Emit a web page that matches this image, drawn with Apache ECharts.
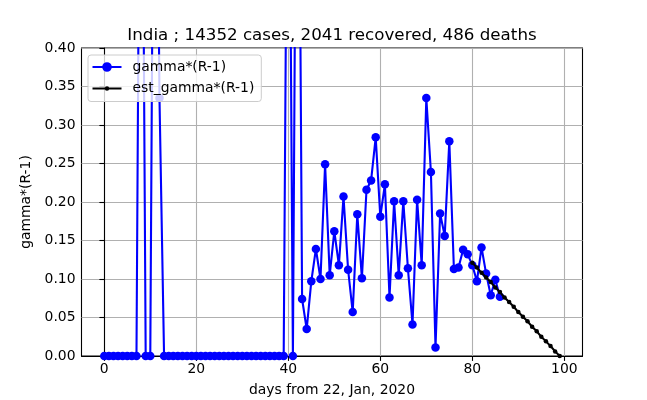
<!DOCTYPE html>
<html lang="en">
<head>
    <meta charset="utf-8">
    <title>India gamma*(R-1)</title>
    <script src="https://cdn.jsdelivr.net/npm/echarts@6/dist/echarts.min.js"></script>
    <style>
        html, body { margin: 0; padding: 0; background: #fff; }
        #box { width: 647px; height: 400px; }
    </style>
</head>
<body>
<div id="box"></div>
<script>
    // gamma*(R-1), one value per day starting at day 0 (22 Jan 2020)
    var gammaVals = [
        0, 0, 0, 0, 0, 0, 0, 0, 1.0, 0,
        0, 1.0, 0.335, 0, 0, 0, 0, 0, 0, 0,
        0, 0, 0, 0, 0, 0, 0, 0, 0, 0,
        0, 0, 0, 0, 0, 0, 0, 0, 0, 0,
        0.9, 0, 1.0, 0.074, 0.035, 0.097, 0.139, 0.100, 0.249, 0.105,
        0.162, 0.118, 0.207, 0.112, 0.057, 0.184, 0.101, 0.216, 0.228, 0.284,
        0.181, 0.223, 0.076, 0.201, 0.105, 0.201, 0.114, 0.041, 0.203, 0.118,
        0.335, 0.239, 0.011, 0.185, 0.156, 0.279, 0.113, 0.115, 0.138, 0.132,
        0.118, 0.097, 0.141, 0.107, 0.079, 0.099, 0.077
    ];
    // estimated gamma*(R-1)
    var estDays = [80, 81, 82, 83, 84, 85, 86, 87, 88, 89, 90, 91, 92, 93, 94, 95, 96, 97, 98, 99];
    var estVals = [0.121, 0.115, 0.108, 0.102, 0.096, 0.089, 0.083, 0.076, 0.070, 0.064,
                   0.057, 0.051, 0.045, 0.038, 0.032, 0.025, 0.019, 0.013, 0.006, 0.000];
    var xTicks = [0, 20, 40, 60, 80, 100];
    var yTicks = [0, 0.05, 0.10, 0.15, 0.20, 0.25, 0.30, 0.35, 0.40];

    var gammaData = [];
    for (var i = 0; i < gammaVals.length; i++) {
        gammaData.push([i, gammaVals[i]]);
    }
    var estData = [];
    for (var j = 0; j < estDays.length; j++) {
        estData.push([estDays[j], estVals[j]]);
    }

    var font = 'DejaVu Sans';
    // legend icons: line with marker in the middle (29 px wide)
    var blueIcon = 'path://M0 3.9 L29 3.9 L29 6 L0 6 Z M9.7 4.95 A4.8 4.8 0 1 1 19.3 4.95 A4.8 4.8 0 1 1 9.7 4.95 Z';
    var blackIcon = 'path://M0 1.2 L29 1.2 L29 3.3 L0 3.3 Z M12.25 2.25 A2.25 2.25 0 1 1 16.75 2.25 A2.25 2.25 0 1 1 12.25 2.25 Z';

    var myChart = echarts.init(document.getElementById('box'), null, {renderer: 'canvas'});

    var option = {
        animation: false,
        backgroundColor: '#ffffff',
        title: {
            text: 'India ; 14352 cases, 2041 recovered, 486 deaths',
            left: 327, top: 22, textAlign: 'center',
            textStyle: {fontFamily: font, fontSize: 16.7, fontWeight: 'normal', color: '#000'}
        },
        legend: {
            left: 88, top: 55, orient: 'vertical',
            itemWidth: 29, itemHeight: 14, itemGap: 7.5,
            padding: [5, 7, 6, 4.5],
            symbolKeepAspect: true,
            backgroundColor: 'rgba(255,255,255,0.8)',
            borderColor: '#cccccc', borderWidth: 1, borderRadius: 3,
            textStyle: {fontFamily: font, fontSize: 13.9, color: '#000', padding: [0, 0, 0, 6]},
            data: [
                {name: 'gamma*(R-1)', icon: blueIcon, itemStyle: {color: '#0000ff'}},
                {name: 'est_gamma*(R-1)', icon: blackIcon, itemStyle: {color: '#000000'}}
            ]
        },
        grid: {
            left: 81.5, right: 64.5, top: 48, bottom: 44,
            outerBoundsMode: 'none',
            show: true, borderColor: '#000', borderWidth: 1.1, backgroundColor: 'transparent'
        },
        xAxis: {
            type: 'value', min: -4.95, max: 103.95,
            name: 'days from 22, Jan, 2020', nameLocation: 'middle', nameGap: 27,
            nameTextStyle: {fontFamily: font, fontSize: 13.9, color: '#000'},
            axisLine: {show: true, onZero: false, lineStyle: {color: '#000', width: 1.1}},
            axisTick: {show: true, length: 4.9, lineStyle: {color: '#000', width: 1.1}},
            axisLabel: {
                fontFamily: font, fontSize: 13.9, color: '#000', margin: 6,
                showMinLabel: false, showMaxLabel: false,
                formatter: function (v) { return xTicks.indexOf(v) >= 0 ? String(v) : ''; }
            },
            splitLine: {show: true, showMinLine: false, showMaxLine: false,
                        lineStyle: {color: '#b0b0b0', width: 1.1}}
        },
        yAxis: {
            type: 'value', min: 0, max: 0.4, interval: 0.05,
            name: 'gamma*(R-1)', nameLocation: 'middle', nameGap: 46,
            nameTextStyle: {fontFamily: font, fontSize: 13.9, color: '#000'},
            axisLine: {show: true, lineStyle: {color: '#000', width: 1.1}},
            axisTick: {show: true, length: 4.9, lineStyle: {color: '#000', width: 1.1}},
            axisLabel: {
                fontFamily: font, fontSize: 13.9, color: '#000', margin: 6,
                formatter: function (v) {
                    for (var k = 0; k < yTicks.length; k++) {
                        if (Math.abs(yTicks[k] - v) < 1e-9) return yTicks[k].toFixed(2);
                    }
                    return '';
                }
            },
            splitLine: {show: true, lineStyle: {color: '#b0b0b0', width: 1.1}}
        },
        series: [
            {
                name: 'gamma*(R-1)',
                type: 'line',
                data: gammaData,
                clip: true,
                symbol: 'circle',
                symbolSize: 8.5,
                showAllSymbol: true,
                lineStyle: {color: '#0000ff', width: 2.1},
                itemStyle: {color: '#0000ff', borderWidth: 0},
                z: 3
            },
            {
                name: 'est_gamma*(R-1)',
                type: 'line',
                data: estData,
                clip: true,
                symbol: 'circle',
                symbolSize: 4.5,
                showAllSymbol: true,
                lineStyle: {color: '#000000', width: 2.1},
                itemStyle: {color: '#000000', borderWidth: 0},
                z: 4
            }
        ]
    };
    myChart.setOption(option, true);
</script>
</body>
</html>
